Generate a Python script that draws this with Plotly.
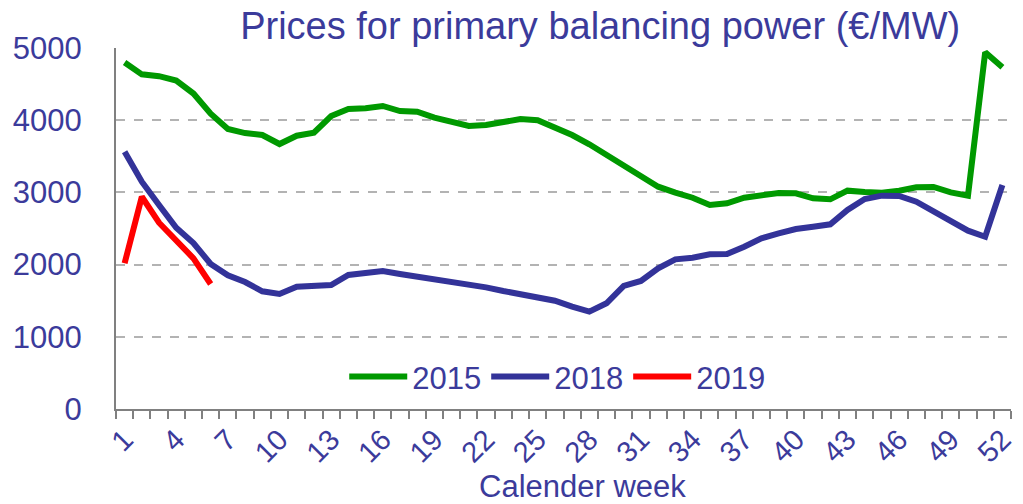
import plotly.graph_objects as go

weeks = list(range(1, 53))

prices_2015 = [4800, 4635, 4610, 4550, 4370, 4090, 3878, 3822, 3795, 3670,
               3785, 3827, 4058, 4155, 4165, 4197, 4127, 4118, 4035, 3980,
               3920, 3933, 3970, 4016, 4000, 3896, 3795, 3666, 3518, 3370,
               3231, 3079, 2996, 2926, 2825, 2849, 2927, 2964, 2992, 2988,
               2918, 2904, 3024, 3005, 2996, 3024, 3070, 3075, 3001, 2955,
               4940, 4733]

prices_2018 = [3564, 3148, 2825, 2511, 2299, 2008, 1852, 1759, 1630, 1593,
               1694, 1704, 1717, 1856, 1888, 1911, 1870, 1833, 1810, 1763,
               1731, 1685, 1634, 1583, 1547, 1500, 1417, 1348, 1464, 1704,
               1773, 1949, 2073, 2096, 2143, 2147, 2248, 2364, 2433, 2493,
               2525, 2558, 2756, 2908, 2955, 2950, 2871, 2742, 2618, 2470,
               2386, 3102]

weeks_2019 = [1, 2, 3, 4, 5, 6]
prices_2019 = [2018, 2940, 2580, 2340, 2087, 1731]

x_tick_vals = list(range(1, 53, 3))
x_tick_text = [str(v) for v in x_tick_vals]
y_tick_vals = [0, 1000, 2000, 3000, 4000, 5000]

text_color = "#3b3b9b"
font_family = "Liberation Sans, Arial, sans-serif"

fig = go.Figure()
fig.add_trace(go.Scatter(x=weeks, y=prices_2015, mode="lines", name="2015",
                         line=dict(color="#009900", width=6)))
fig.add_trace(go.Scatter(x=weeks, y=prices_2018, mode="lines", name="2018",
                         line=dict(color="#333399", width=6)))
fig.add_trace(go.Scatter(x=weeks_2019, y=prices_2019, mode="lines", name="2019",
                         line=dict(color="#ff0000", width=6)))

# The page body has an 8px margin, so the figure is sized to fill the rest.
fig.update_layout(
    width=1015, height=496,
    margin=dict(l=108, r=12, t=40, b=95, autoexpand=False),
    paper_bgcolor="white", plot_bgcolor="white",
    font=dict(family=font_family, color=text_color, size=31),
    title=dict(text="Prices for primary balancing power (€/MW)",
               font=dict(size=38, color=text_color, family=font_family),
               x=0.541, xref="paper", xanchor="center",
               y=0.964, yref="container", yanchor="middle"),
    legend=dict(orientation="h", x=0.493, y=0.089, xanchor="center", yanchor="middle",
                bgcolor="rgba(0,0,0,0)", font=dict(size=31, color=text_color),
                itemwidth=58, traceorder="normal"),
    showlegend=True,
    annotations=[dict(text="Calender week", xref="paper", yref="paper",
                      x=0.5207, y=-0.216, xanchor="center", yanchor="middle",
                      showarrow=False, font=dict(size=31, color=text_color))],
)

fig.update_xaxes(
    range=[0.5, 52.5], automargin=False,
    tickmode="array", tickvals=x_tick_vals, ticktext=x_tick_text,
    tickangle=-45, tickfont=dict(size=29, color=text_color),
    ticks="", showgrid=False, zeroline=False,
    showline=True, linecolor="#808080", linewidth=2,
    minor=dict(tickmode="linear", tick0=0.5, dtick=1, ticks="outside",
               ticklen=8, tickwidth=1.5, tickcolor="#808080", showgrid=False),
)

fig.update_yaxes(
    range=[0, 5000], automargin=False,
    tickmode="array", tickvals=y_tick_vals,
    tickfont=dict(size=31, color=text_color),
    ticks="", ticklabelstandoff=26,
    showgrid=True, gridcolor="#b3b3b3", gridwidth=2, griddash="dash",
    zeroline=False,
    showline=True, linecolor="#808080", linewidth=2,
)

fig.write_html("out.html")
